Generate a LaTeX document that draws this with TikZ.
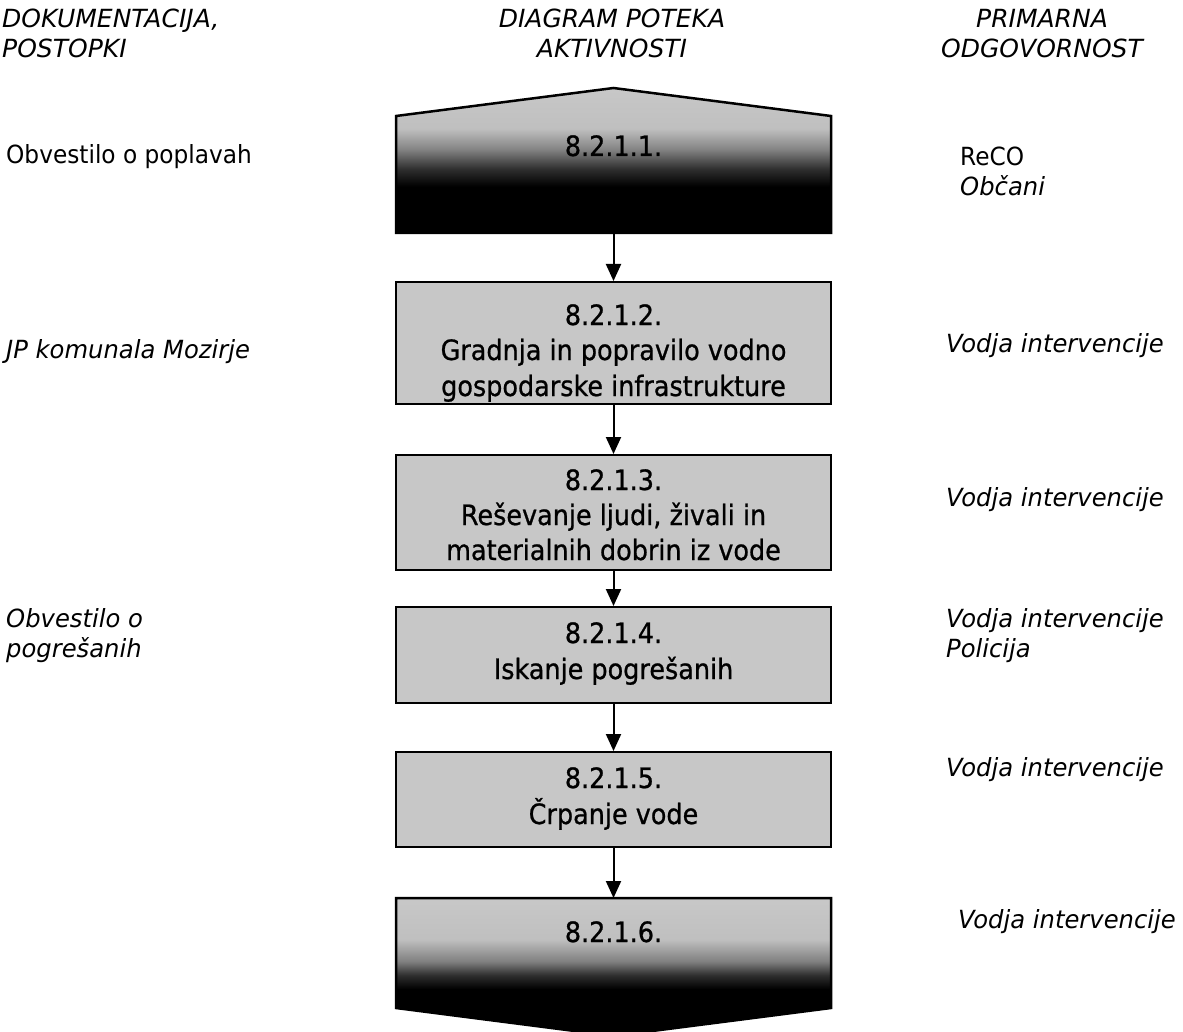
\documentclass[tikz,border=0pt]{standalone}
\usepackage{fontspec}
\setmainfont{DejaVu Sans}
\newfontfamily\boxfont{DejaVu Sans}[FakeStretch=0.91, FakeBold=0.8]
\newfontfamily\lblfont{DejaVu Sans}[FakeStretch=0.93]
\newfontfamily\ilblfont{DejaVu Sans}[FakeStretch=0.97]
\newfontfamily\hdrfont{DejaVu Sans}[FakeStretch=1.0]
\usetikzlibrary{arrows.meta}
\pgfdeclareverticalshading{topfade}{100bp}{color(0bp)=(black); color(41bp)=(black); color(47bp)=(black!82); color(54bp)=(black!48); color(61bp)=(black!25); color(100bp)=(black!16)}
\pgfdeclareverticalshading{botfade}{100bp}{color(0bp)=(black); color(42bp)=(black); color(47bp)=(black!82); color(52bp)=(black!50); color(60bp)=(black!25); color(100bp)=(black!16)}
\tikzset{
  boxst/.style={draw=black, line width=2pt, fill=black!22, minimum width=435pt, inner sep=0pt},
  btxt/.style={font=\boxfont\fontsize{28}{34}\selectfont, anchor=base, inner sep=0pt},
  lbl/.style={font=\lblfont\fontsize{25}{30}\selectfont, anchor=base west, inner sep=0pt},
  ilbl/.style={font=\ilblfont\fontsize{25}{30}\selectfont\itshape, anchor=base west, inner sep=0pt},
  hdr/.style={font=\hdrfont\fontsize{25}{30}\selectfont\itshape, inner sep=0pt},
  arr/.style={line width=2pt, -{Triangle[width=15pt,length=17pt]}}
}
\begin{document}
\begin{tikzpicture}[x=1pt,y=-1pt]
\useasboundingbox (0,0) rectangle (1183,1032);
\clip (0,0) rectangle (1183,1032);
% headers
\node[hdr, anchor=base west] (h1a) at (2,28) {DOKUMENTACIJA,};
\node[hdr, anchor=base west] (h1b) at (2,58) {POSTOPKI};
\node[hdr, anchor=base] (h2a) at (612,28) {DIAGRAM POTEKA};
\node[hdr, anchor=base] (h2b) at (612,58) {AKTIVNOSTI};
\node[hdr, anchor=base] (h3a) at (1042,28) {PRIMARNA};
\node[hdr, anchor=base] (h3b) at (1042,58) {ODGOVORNOST};
% top shape
\shade[shading=topfade] (396,116) -- (613.5,88) -- (831,116) -- (831,233) -- (396,233) -- cycle;
\draw[line width=2.5pt, line join=miter] (396,116) -- (613.5,88) -- (831,116) -- (831,233) -- (396,233) -- cycle;
\coordinate (s1b) at (613.5,233);
\node[btxt] (t1) at (613.5,156) {8.2.1.1.};
% boxes
\node[boxst, minimum height=122pt] (b2) at (613.5,343) {};
\node[btxt] (t2a) at (613.5,325) {8.2.1.2.};
\node[btxt] (t2b) at (613.5,360) {Gradnja in popravilo vodno};
\node[btxt] (t2c) at (613.5,396) {gospodarske infrastrukture};
\node[boxst, minimum height=115pt] (b3) at (613.5,512.5) {};
\node[btxt] (t3a) at (613.5,490) {8.2.1.3.};
\node[btxt] (t3b) at (613.5,525) {Reševanje ljudi, živali in};
\node[btxt] (t3c) at (613.5,560) {materialnih dobrin iz vode};
\node[boxst, minimum height=96pt] (b4) at (613.5,655) {};
\node[btxt] (t4a) at (613.5,643) {8.2.1.4.};
\node[btxt] (t4b) at (613.5,679) {Iskanje pogrešanih};
\node[boxst, minimum height=95pt] (b5) at (613.5,799.5) {};
\node[btxt] (t5a) at (613.5,788) {8.2.1.5.};
\node[btxt] (t5b) at (613.5,824) {Črpanje vode};
% bottom shape
\shade[shading=botfade] (396,898) -- (831,898) -- (831,1008) -- (613.5,1036) -- (396,1008) -- cycle;
\draw[line width=2.5pt, line join=miter] (396,898) -- (831,898) -- (831,1008) -- (613.5,1036) -- (396,1008) -- cycle;
\coordinate (s6t) at (613.5,898);
\node[btxt] (t6) at (613.5,942) {8.2.1.6.};
% arrows
\draw[arr] (s1b) -- (b2.north);
\draw[arr] (b2.south) -- (b3.north);
\draw[arr] (b3.south) -- (b4.north);
\draw[arr] (b4.south) -- (b5.north);
\draw[arr] (b5.south) -- (s6t);
% left labels
\node[lbl] (l1) at (6,164) {Obvestilo o poplavah};
\node[ilbl] (l2) at (6,358) {JP komunala Mozirje};
\node[ilbl] (l4a) at (6,627) {Obvestilo o};
\node[ilbl] (l4b) at (6,657) {pogrešanih};
% right labels
\node[lbl] (r1a) at (960,166) {ReCO};
\node[ilbl] (r1b) at (960,196) {Občani};
\node[ilbl] (r2) at (946,352) {Vodja intervencije};
\node[ilbl] (r3) at (946,506) {Vodja intervencije};
\node[ilbl] (r4a) at (946,627) {Vodja intervencije};
\node[ilbl] (r4b) at (946,657) {Policija};
\node[ilbl] (r5) at (946,776) {Vodja intervencije};
\node[ilbl] (r6) at (958,928) {Vodja intervencije};
\end{tikzpicture}
\end{document}
